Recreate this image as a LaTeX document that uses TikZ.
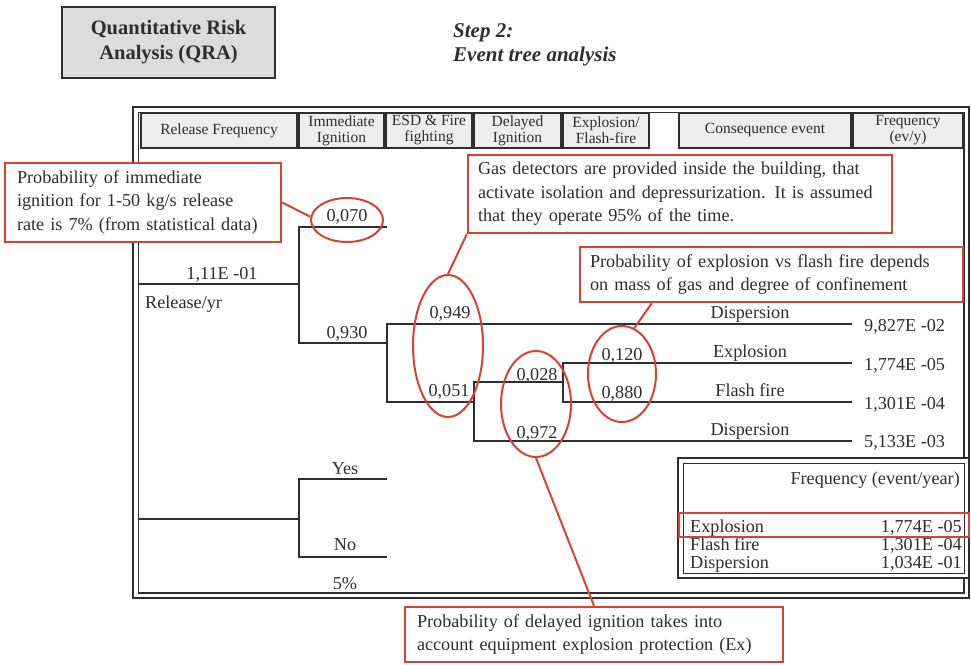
\documentclass[tikz,border=0pt]{standalone}
\usepackage{fontspec}
\setmainfont{Liberation Serif}
\usetikzlibrary{shapes.geometric,calc}
\definecolor{ink}{HTML}{2E2E2E}
\definecolor{callred}{HTML}{DA4134}
\definecolor{headfill}{HTML}{EDEDED}
\definecolor{titlefill}{HTML}{DCDCDC}

\begin{document}
\begin{tikzpicture}[x=1pt,y=-1pt,
  txt/.style={font=\fontsize{18.2}{23.5}\selectfont, text=ink, inner sep=0pt},
  lbl/.style={txt, anchor=base},
  val/.style={txt, anchor=base west},
  hdr/.style={draw=ink, line width=1.5pt, fill=headfill, font=\fontsize{15.5}{16}\selectfont,
              text=ink, align=center, inner sep=0pt, minimum height=34.6pt},
  branch/.style={draw=ink, line width=2pt},
  callout/.style={draw=callred, line width=2.4pt, fill=white, txt, align=left},
  ring/.style={draw=callred, line width=2pt, ellipse, inner sep=0pt},
  lead/.style={draw=callred, line width=2pt},
]
\useasboundingbox (0,0) rectangle (971,664);

% ---------- title blocks ----------
\node[draw=ink, line width=1.5pt, fill=titlefill, minimum width=213pt, minimum height=71pt,
      align=center, text=ink, font=\bfseries\fontsize{20.5}{25}\selectfont] (qra) at (168.5,42.5)
      {Quantitative Risk\\Analysis (QRA)};
\node[anchor=west, align=left, text=ink, inner sep=0pt,
      font=\bfseries\itshape\fontsize{21}{24}\selectfont] (step) at (453,45)
      {Step 2:\\Event tree analysis};

% ---------- outer double frame ----------
\draw[ink, line width=2.8pt] (133,107) rectangle (969,598);
\draw[ink, line width=1.2pt] (138.5,112.5) rectangle (964,593);

% ---------- column headers ----------
\node[hdr, minimum width=155.6pt] (h1) at (219,130.5) {Release Frequency};
\node[hdr, minimum width=84.6pt]  (h2) at (341.5,130.5) {Immediate\\Ignition};
\node[hdr, minimum width=85.6pt]  (h3) at (429,130.5) {ESD \& Fire\\fighting};
\node[hdr, minimum width=86.6pt]  (h4) at (517.5,130.5) {Delayed\\Ignition};
\node[hdr, minimum width=85.6pt]  (h5) at (606,130.5) {Explosion/\\Flash-fire};
\node[hdr, minimum width=171.6pt] (h6) at (765,130.5) {Consequence event};
\node[hdr, minimum width=109.6pt] (h7) at (908,130.5) {Frequency\\(ev/y)};

% ---------- event tree ----------
\coordinate (r0)  at (138,284);
\coordinate (n1)  at (299,284);
\coordinate (n1u) at (299,227);
\coordinate (n1d) at (299,343);
\coordinate (a070) at (387,227);
\coordinate (n2)  at (387,343);
\coordinate (n2u) at (387,324);
\coordinate (n2d) at (387,402);
\coordinate (a949) at (852,324);
\coordinate (n3)  at (474,402);
\coordinate (n3u) at (474,382);
\coordinate (n3d) at (474,441);
\coordinate (a972) at (852,441);
\coordinate (n4)  at (563,382);
\coordinate (n4u) at (563,363);
\coordinate (n4d) at (563,402);
\coordinate (a120) at (852,363);
\coordinate (a880) at (852,402);

\draw[branch] (r0) -- (n1);
\draw[branch] (a070) -- (n1u) -- (n1d) -- (n2);
\draw[branch] (a949) -- (n2u) -- (n2d) -- (n3);
\draw[branch] (n4) -- (n3u) -- (n3d) -- (a972);
\draw[branch] (a120) -- (n4u) -- (n4d) -- (a880);

\node[lbl] (rate) at (222,279) {1,11E -01};
\node[txt, anchor=base west] (unit) at (145,308) {Release/yr};
\node[lbl] (p070) at (347,221) {0,070};
\node[lbl] (p930) at (347,338) {0,930};
\node[lbl] (p949) at (450,318) {0,949};
\node[lbl] (p051) at (449,396) {0,051};
\node[lbl] (p028) at (537,380) {0,028};
\node[lbl] (p972) at (537,438) {0,972};
\node[lbl] (p120) at (622,360) {0,120};
\node[lbl] (p880) at (622,398) {0,880};

\node[lbl] (o1) at (750,318) {Dispersion};
\node[lbl] (o2) at (750,357) {Explosion};
\node[lbl] (o3) at (750,396) {Flash fire};
\node[lbl] (o4) at (750,435) {Dispersion};

\node[val] (f1) at (864,331) {9,827E -02};
\node[val] (f2) at (864,370) {1,774E -05};
\node[val] (f3) at (864,409) {1,301E -04};
\node[val] (f4) at (864,447) {5,133E -03};

% ---------- yes / no branch ----------
\coordinate (s0)  at (138,519);
\coordinate (s1)  at (299,519);
\coordinate (s1u) at (299,479);
\coordinate (s1d) at (299,557);
\coordinate (ayes) at (387,479);
\coordinate (ano)  at (387,557);
\draw[branch] (s0) -- (s1);
\draw[branch] (ayes) -- (s1u) -- (s1d) -- (ano);
\node[lbl] (yes) at (345,474) {Yes};
\node[lbl] (no)  at (345,550) {No};
\node[lbl] (pct) at (345,589) {5\%};

% ---------- summary box ----------
\draw[ink, line width=2pt, fill=white] (678,458) rectangle (969,578);
\draw[ink, line width=1pt] (683,463) rectangle (964,573);
\node[txt, anchor=base east] (fq) at (960,484) {Frequency (event/year)};
\node[txt, anchor=base west] (k1) at (690,532) {Explosion};
\node[txt, anchor=base east] (v1) at (962,532) {1,774E -05};
\node[txt, anchor=base west] (k2) at (690,550) {Flash fire};
\node[txt, anchor=base east] (v2) at (962,550) {1,301E -04};
\node[txt, anchor=base west] (k3) at (690,568) {Dispersion};
\node[txt, anchor=base east] (v3) at (962,568) {1,034E -01};
\draw[callred, line width=2.2pt] (679,513) rectangle (969,537);

% ---------- highlight rings ----------
\node[ring, minimum width=72pt, minimum height=44pt]  (e1) at (347,220) {};
\node[ring, minimum width=70pt, minimum height=142pt] (e2) at (448,346) {};
\node[ring, minimum width=70pt, minimum height=106pt] (e3) at (536,404) {};
\node[ring, minimum width=68pt, minimum height=96pt]  (e4) at (622,374) {};

% ---------- callouts ----------
\node[callout, minimum width=276pt, minimum height=79pt, text width=252pt, inner sep=0pt] (c1) at (143,202.5)
  {Probability of immediate\\ignition for 1-50 kg/s release\\rate is 7\% (from statistical data)};
\node[callout, minimum width=424pt, minimum height=78pt, text width=404pt, inner sep=0pt] (c2) at (680,194)
  {Gas detectors are provided inside the building, that\\activate isolation and depressurization. It is assumed\\that they operate 95\% of the time.};
\node[callout, minimum width=383pt, minimum height=55pt, text width=363pt, inner sep=0pt] (c3) at (771.5,274.5)
  {Probability of explosion vs flash fire depends\\on mass of gas and degree of confinement};
\node[callout, minimum width=378pt, minimum height=55pt, text width=354pt, inner sep=0pt] (c4) at (594,634.5)
  {Probability of delayed ignition takes into\\account equipment explosion protection (Ex)};

\draw[lead] (c1.east) -- (e1.175);
\draw[lead] (c2.south west) -- (e2.north);
\draw[lead] ([xshift=73pt]c3.south west) -- (e4.75);
\draw[lead] (e3.south) -- (c4.north);
\end{tikzpicture}
\end{document}
